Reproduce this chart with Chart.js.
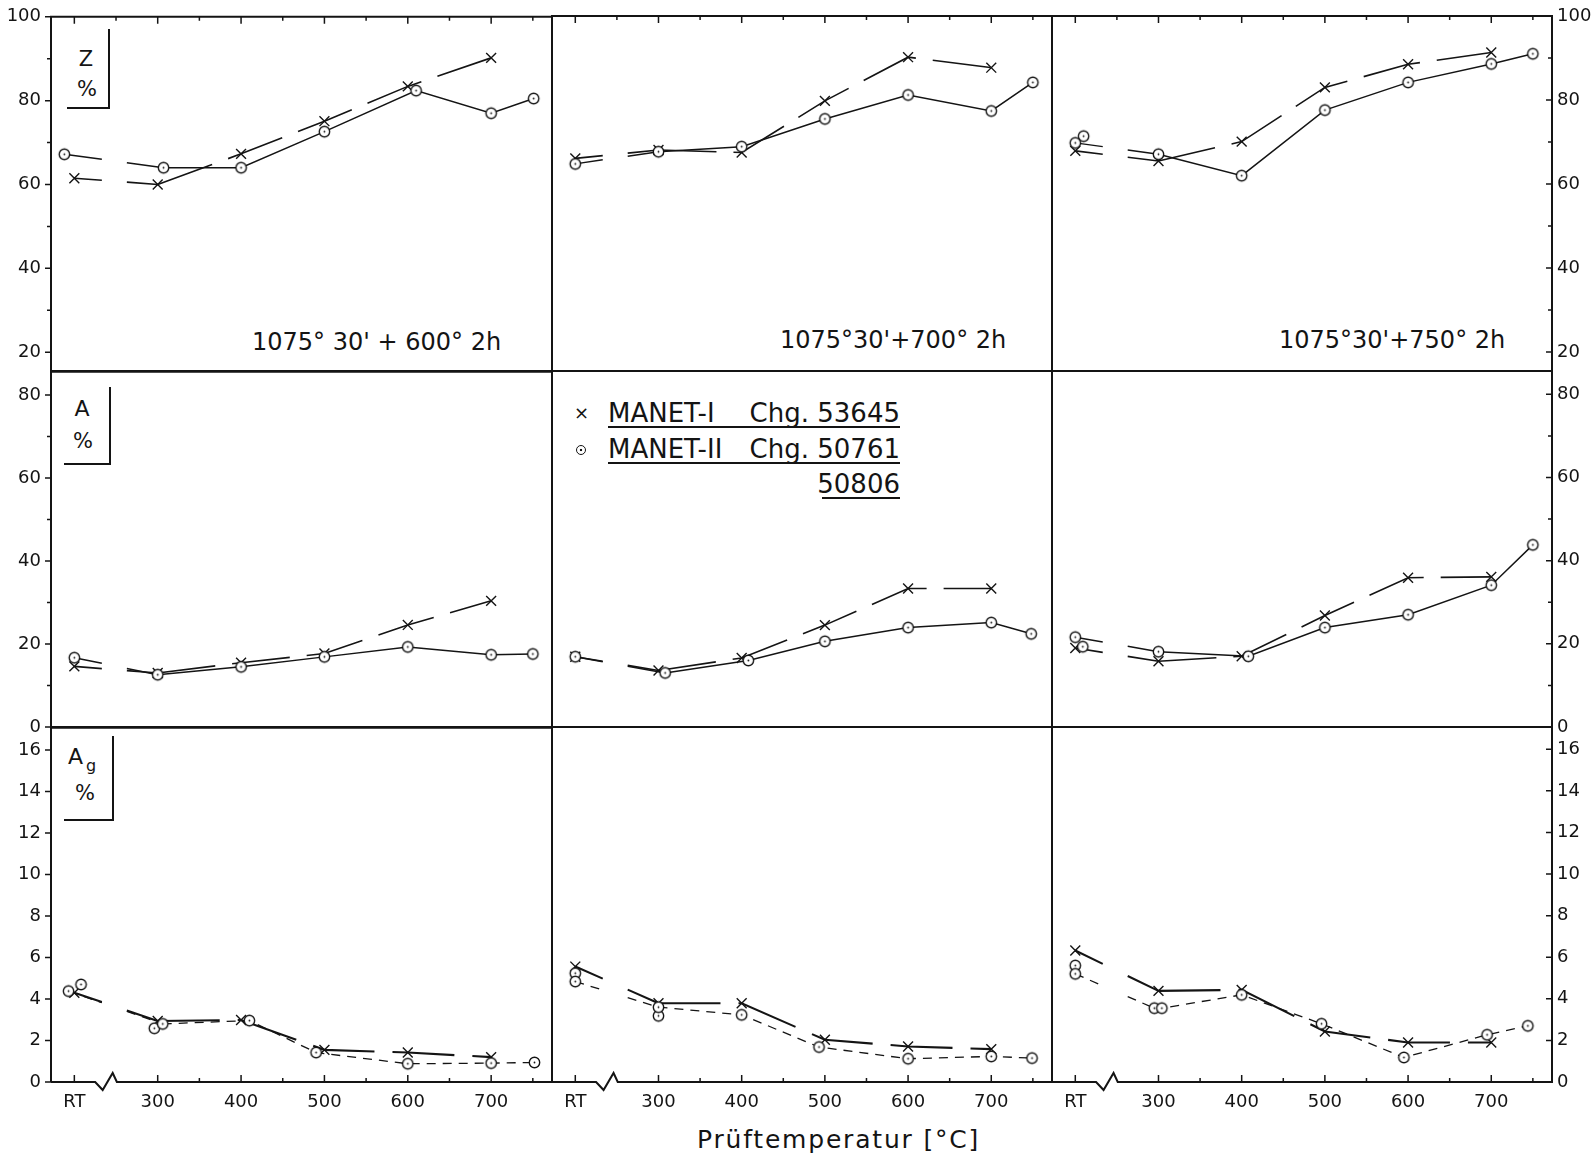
<!DOCTYPE html>
<html>
<head>
<meta charset="utf-8">
<title>MANET-I / MANET-II: Z, A, Ag über Prüftemperatur</title>
<script src="https://cdn.jsdelivr.net/npm/chart.js@4.4.1/dist/chart.umd.min.js"></script>
<style>
  body { margin: 0; background: #fff; width: 1591px; height: 1158px; position: relative; overflow: hidden;
         font-family: 'DejaVu Sans', sans-serif; color: #141414; }
  canvas { position: absolute; }
  .txt { position: absolute; white-space: nowrap; }
  .unit { position: absolute; border-right: 2px solid #141414; border-bottom: 2px solid #141414; }
  .ann { font-size: 24px; line-height: 24px; }
  .leg { position: absolute; left: 608px; width: 292px; height: 26px; font-size: 26px; line-height: 26px;
         border-bottom: 2px solid #141414; display: flex; justify-content: space-between; }
  .ring { position: absolute; box-sizing: border-box; width: 10px; height: 10px; border: 1.3px solid #141414;
          border-radius: 50%; background: radial-gradient(circle, #141414 1.1px, transparent 1.6px); }
</style>
</head>
<body>

<!-- unit boxes -->
<div class="unit" style="left:67px;top:29px;width:41px;height:78px"></div>
<div class="txt" style="left:66px;width:40px;text-align:center;top:49px;font-size:21px;line-height:21px">Z</div>
<div class="txt" style="left:67px;width:40px;text-align:center;top:79px;font-size:21px;line-height:21px">%</div>

<div class="unit" style="left:64px;top:387px;width:45px;height:76px"></div>
<div class="txt" style="left:62px;width:40px;text-align:center;top:398px;font-size:22px;line-height:22px">A</div>
<div class="txt" style="left:63px;width:40px;text-align:center;top:431px;font-size:21px;line-height:21px">%</div>

<div class="unit" style="left:64px;top:736px;width:48px;height:83px"></div>
<div class="txt" style="left:68px;top:746px;font-size:22px;line-height:22px">A<span style="font-size:16px;position:relative;top:7px;margin-left:3px">g</span></div>
<div class="txt" style="left:65px;width:40px;text-align:center;top:783px;font-size:21px;line-height:21px">%</div>

<!-- heat treatment labels -->
<div class="txt ann" style="left:252px;top:330px">1075° 30' + 600° 2h</div>
<div class="txt ann" style="left:780px;top:328px">1075°30'+700° 2h</div>
<div class="txt ann" style="left:1279px;top:328px">1075°30'+750° 2h</div>

<!-- legend -->
<div class="txt" style="left:574px;top:403px;font-size:18px;line-height:20px">×</div>
<div class="ring" style="left:576px;top:445px"></div>
<div class="leg" style="top:400px"><span>MANET-I</span><span>Chg. 53645</span></div>
<div class="leg" style="top:436px"><span>MANET-II</span><span>Chg. 50761</span></div>
<div class="leg" style="top:471px;left:822px;width:78px;justify-content:flex-end"><span>50806</span></div>

<!-- x axis title -->
<div class="txt" style="left:697px;top:1127px;font-size:25px;line-height:25px;letter-spacing:1.8px">Prüftemperatur [°C]</div>

<script>
// Temperatures (RT is plotted at 200 on the temperature axis)
const tempsI = [200, 300, 400, 500, 600, 700];
const tempsII = [200, 300, 400, 500, 600, 700, 750];
const xLabelTicks = [200, 300, 400, 500, 600, 700];
const xLabels = ['RT', '300', '400', '500', '600', '700'];
const xTicksTop = [200, 250, 300, 350, 400, 450, 500, 550, 600, 650, 700, 750];
const xTicksBottom = [200, 300, 350, 400, 450, 500, 550, 600, 650, 700, 750];

// Z (%) - Brucheinschnürung
const zI_600 = [61.5, 60.0, 67.3, 75.1, 83.4, 90.2];
const zII_600x = [188, 307, 400, 500, 610, 700, 751];
const zII_600 = [67.2, 64.0, 64.0, 72.6, 82.4, 77.0, 80.5];
const zI_700 = [66.1, 68.1, 67.5, 79.8, 90.2, 87.7];
const zII_700 = [64.8, 67.7, 68.9, 75.5, 81.2, 77.4, 84.2];
const zI_750 = [67.9, 65.5, 70.1, 83.0, 88.5, 91.3];
const zII_750 = [69.8, 67.1, 62.0, 77.6, 84.2, 88.6, 91.0];
const zExtra_750 = [[210, 71.4]];

// A (%) - Bruchdehnung
const aI_600 = [14.6, 13.0, 15.5, 17.7, 24.6, 30.4];
const aII_600 = [16.7, 12.6, 14.5, 16.9, 19.3, 17.4, 17.6];
const aI_700 = [16.9, 13.6, 16.6, 24.5, 33.3, 33.3];
const aII_700x = [200, 308, 408, 500, 600, 700, 748];
const aII_700 = [16.9, 13.0, 16.0, 20.6, 23.9, 25.1, 22.4];
const aI_750 = [19.0, 15.8, 17.0, 26.8, 35.9, 36.1];
const aII_750x = [200, 300, 408, 500, 600, 700, 750];
const aII_750 = [21.6, 18.1, 17.0, 23.9, 27.0, 34.1, 43.8];
const aExtra_750 = [[209, 19.3]];

// Ag (%) - Gleichmaßdehnung
const agI_600 = [4.30, 2.94, 2.99, 1.55, 1.42, 1.20];
const agII_600x = [193, 306, 410, 490, 600, 700, 752];
const agII_600 = [4.38, 2.80, 2.96, 1.42, 0.88, 0.91, 0.94];
const agExtra_600 = [[208, 4.70], [296, 2.59]];
const agI_700 = [5.55, 3.79, 3.79, 2.03, 1.71, 1.58];
const agII_700x = [200, 300, 400, 493, 600, 700, 749];
const agII_700 = [4.83, 3.60, 3.23, 1.68, 1.12, 1.23, 1.15];
const agExtra_700 = [[200, 5.23], [300, 3.18]];
const agI_750 = [6.32, 4.38, 4.43, 2.43, 1.90, 1.90];
const agII_750x = [200, 295, 304, 400, 496, 595, 695, 744];
const agII_750 = [5.20, 3.55, 3.55, 4.19, 2.80, 1.18, 2.27, 2.70];
const agExtra_750 = [[200, 5.60]];

// y axes per row
const zRange = [15.5, 100], zTicks = [20, 40, 60, 80, 100], zMinor = [30, 50, 70, 90];
const aRange = [0, 85.6], aTicks = [0, 20, 40, 60, 80], aMinor = [10, 30, 50, 70];
const agRange = [0, 17.07], agTicks = [0, 2, 4, 6, 8, 10, 12, 14, 16], agMinor = [];

// page layout
const INK = '#141414';
const colEdges = [51, 552, 1052, 1552];
const rowEdges = [16, 371, 727, 1082];
const X_MIN = 172, X_MAX = 773;
const PAD_SIDE = 60, PAD_TOP = 20, PAD_BOTTOM = 50;
const lineGap = [233, 263];          // lines are interrupted over the axis break
const breakX = [225, 234, 246, 251];  // zigzag on the bottom axis

Chart.defaults.font.family = "'DejaVu Sans', sans-serif";
Chart.defaults.color = INK;

// open circle with centre dot
const ring = document.createElement('canvas');
ring.width = ring.height = 15;
const rc = ring.getContext('2d');
rc.beginPath(); rc.arc(7.5, 7.5, 5.2, 0, 2 * Math.PI);
rc.fillStyle = '#fff'; rc.fill();
rc.lineWidth = 1.4; rc.strokeStyle = INK; rc.stroke();
rc.beginPath(); rc.arc(7.5, 7.5, 0.9, 0, 2 * Math.PI);
rc.fillStyle = INK; rc.fill();

function gapDash(L, a, b, pat) {
  const on = pat.length ? pat[0] : L + 10;
  const off = pat.length ? pat[1] : 0;
  const out = [];
  let pos = 0;
  while (true) {
    const d = Math.min(on, Math.max(a - pos, 0));
    pos += d;
    if (pos >= a - 0.01 || pos + off >= a) { out.push(d, Math.max(b - pos, 0)); pos = b; break; }
    out.push(d, off);
    pos += off;
  }
  while (pos < L) { out.push(on, off); pos += on + off; }
  return out;
}

function gapSegment(pattern) {
  return ctx => {
    const x = ctx.chart.scales.x;
    const g0 = x.getPixelForValue(lineGap[0]), g1 = x.getPixelForValue(lineGap[1]);
    const p0 = ctx.p0, p1 = ctx.p1;
    if (!(p0.x < g0 && p1.x > g1)) return undefined;
    const L = Math.hypot(p1.x - p0.x, p1.y - p0.y);
    const k = L / (p1.x - p0.x);
    return gapDash(L, (g0 - p0.x) * k, (g1 - p0.x) * k, pattern);
  };
}

const toPts = (xs, ys) => ys.map((y, i) => ({x: xs[i], y: y}));

const framePlugin = {
  id: 'frame',
  afterDatasetsDraw(chart, args, opts) {
    const {ctx, chartArea: a} = chart;
    const x = chart.scales.x, y = chart.scales.y;
    const b = a.bottom;
    ctx.save();
    ctx.strokeStyle = INK;
    ctx.lineWidth = 2;
    ctx.beginPath();
    ctx.moveTo(a.left, b);
    ctx.lineTo(a.left, a.top);
    ctx.lineTo(a.right, a.top);
    ctx.lineTo(a.right, b);
    if (opts.row === 2) {
      ctx.lineTo(x.getPixelForValue(breakX[3]), b);
      ctx.lineTo(x.getPixelForValue(breakX[2]), b - 9);
      ctx.lineTo(x.getPixelForValue(breakX[1]), b + 8);
      ctx.lineTo(x.getPixelForValue(breakX[0]), b);
    }
    ctx.lineTo(a.left, b);
    ctx.stroke();

    ctx.lineWidth = 1.5;
    ctx.beginPath();
    if (opts.row === 0) {
      xTicksTop.forEach(v => {
        const px = x.getPixelForValue(v);
        ctx.moveTo(px, a.top); ctx.lineTo(px, a.top + (v % 100 === 0 ? 7 : 4));
      });
    }
    if (opts.row === 2) {
      xTicksBottom.forEach(v => {
        const px = x.getPixelForValue(v);
        ctx.moveTo(px, b); ctx.lineTo(px, b - (v % 100 === 0 ? 7 : 4));
      });
    }
    const yTicks = [[opts.major, 6], [opts.minor, 4]];
    yTicks.forEach(([vals, len]) => vals.forEach(v => {
      const py = y.getPixelForValue(v);
      if (opts.col === 0) { ctx.moveTo(a.left, py); ctx.lineTo(a.left - len, py); }
      if (opts.col === 2) { ctx.moveTo(a.right, py); ctx.lineTo(a.right - len, py); }
    }));
    ctx.stroke();
    ctx.restore();
  }
};

function makePanel(row, col, p) {
  const areaW = colEdges[col + 1] - colEdges[col];
  const areaH = rowEdges[row + 1] - rowEdges[row];
  const cv = document.createElement('canvas');
  cv.width = areaW + 2 * PAD_SIDE;
  cv.height = areaH + PAD_TOP + PAD_BOTTOM;
  cv.style.left = (colEdges[col] - PAD_SIDE) + 'px';
  cv.style.top = (rowEdges[row] - PAD_TOP) + 'px';
  document.body.appendChild(cv);

  const bottomRow = row === 2;
  const dashI = bottomRow ? [62, 18] : [58, 17];
  const dashII = bottomRow ? [9, 7] : [];
  const datasets = [
    { label: 'MANET-I Chg. 53645', data: toPts(tempsI, p.i), order: 3,
      borderColor: INK, borderWidth: bottomRow ? 2.1 : 1.6, borderDash: dashI,
      segment: { borderDash: gapSegment(dashI) },
      pointStyle: 'crossRot', pointRadius: 7, pointBorderWidth: 1.4,
      pointBorderColor: INK, pointBackgroundColor: INK },
    { label: 'MANET-II Chg. 50761 / 50806', data: toPts(p.iix || tempsII, p.ii), order: 1,
      borderColor: INK, borderWidth: bottomRow ? 1.3 : 1.5, borderDash: dashII,
      segment: { borderDash: gapSegment(dashII) },
      pointStyle: ring, pointRadius: 5 },
    { label: 'MANET-II (Doppelprobe)', data: (p.extra || []).map(([x, y]) => ({x, y})), order: 2,
      showLine: false, pointStyle: ring, pointRadius: 5 }
  ];

  new Chart(cv, {
    type: 'line',
    data: { datasets },
    options: {
      animation: false,
      responsive: false,
      devicePixelRatio: 1,
      layout: { padding: { left: col === 2 ? PAD_SIDE : 0, right: col === 2 ? 0 : PAD_SIDE, top: PAD_TOP, bottom: 0 } },
      plugins: {
        legend: { display: false },
        tooltip: { enabled: false },
        frame: { row, col, major: p.ticks, minor: p.minor }
      },
      scales: {
        x: {
          type: 'linear', min: X_MIN, max: X_MAX,
          grid: { display: false, drawTicks: false }, border: { display: false },
          afterFit: s => { s.height = PAD_BOTTOM; },
          afterBuildTicks: s => { s.ticks = xLabelTicks.map(v => ({value: v})); },
          ticks: { display: bottomRow, autoSkip: false, maxRotation: 0, padding: 10,
                   font: { size: 18 }, color: INK,
                   callback: v => xLabels[xLabelTicks.indexOf(v)] }
        },
        y: {
          type: 'linear', position: col === 2 ? 'right' : 'left',
          min: p.range[0], max: p.range[1],
          grid: { display: false, drawTicks: false }, border: { display: false },
          afterFit: s => { s.width = PAD_SIDE; },
          afterBuildTicks: s => { s.ticks = p.ticks.map(v => ({value: v})); },
          ticks: { display: col !== 1, padding: col === 2 ? 5 : 10, font: { size: 18 }, color: INK }
        }
      }
    },
    plugins: [framePlugin]
  });
}

const zRow = { range: zRange, ticks: zTicks, minor: zMinor };
const aRow = { range: aRange, ticks: aTicks, minor: aMinor };
const agRow = { range: agRange, ticks: agTicks, minor: agMinor };

makePanel(0, 0, { ...zRow, i: zI_600, iix: zII_600x, ii: zII_600 });
makePanel(0, 1, { ...zRow, i: zI_700, ii: zII_700 });
makePanel(0, 2, { ...zRow, i: zI_750, ii: zII_750, extra: zExtra_750 });
makePanel(1, 0, { ...aRow, i: aI_600, ii: aII_600 });
makePanel(1, 1, { ...aRow, i: aI_700, iix: aII_700x, ii: aII_700 });
makePanel(1, 2, { ...aRow, i: aI_750, iix: aII_750x, ii: aII_750, extra: aExtra_750 });
makePanel(2, 0, { ...agRow, i: agI_600, iix: agII_600x, ii: agII_600, extra: agExtra_600 });
makePanel(2, 1, { ...agRow, i: agI_700, iix: agII_700x, ii: agII_700, extra: agExtra_700 });
makePanel(2, 2, { ...agRow, i: agI_750, iix: agII_750x, ii: agII_750, extra: agExtra_750 });
</script>
</body>
</html>
